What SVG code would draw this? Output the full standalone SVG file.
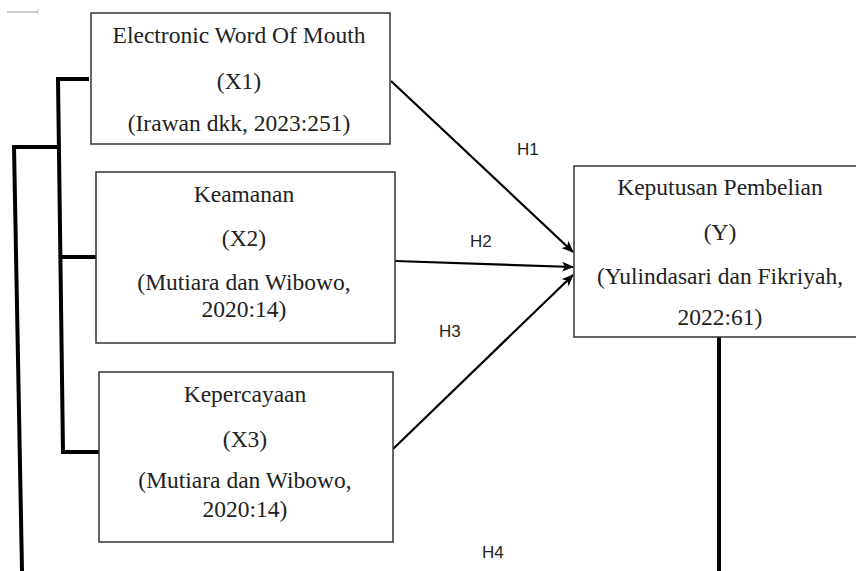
<svg xmlns="http://www.w3.org/2000/svg" width="856" height="571" viewBox="0 0 856 571">
<style>
.box{fill:#fff;stroke:#333;stroke-width:1.5}
.t{font-family:"Liberation Serif","Times New Roman",serif;font-size:23.5px;fill:#222;text-anchor:middle}
.h{font-family:"Liberation Sans",Arial,sans-serif;font-size:17px;fill:#222}
.thick{fill:none;stroke:#000;stroke-width:4;stroke-linejoin:miter}
.arr{fill:none;stroke:#000;stroke-width:2.2;marker-end:url(#ah)}
</style>
<defs>
<marker id="ah" markerWidth="12" markerHeight="10" refX="11" refY="5" orient="auto" markerUnits="userSpaceOnUse">
<path d="M0,0 L12,5 L0,10 L3,5 Z" fill="#000"/>
</marker>
</defs>
<rect width="856" height="571" fill="#fff"/>
<line x1="7" y1="12" x2="38" y2="12" stroke="#999" stroke-width="1"/>
<line x1="38" y1="9" x2="38" y2="14" stroke="#bbb" stroke-width="1"/>

<g id="connectors">
<path class="thick" d="M89,79 L58,79 L63,452 L99,452"/>
<path class="thick" d="M60,257 L96,257"/>
<path class="thick" d="M58,147 L14,147 L22,571"/>
<path class="thick" d="M719,337 L719,571"/>
<path class="arr" d="M391,81 L573,252"/>
<path class="arr" d="M395,261 L573,267"/>
<path class="arr" d="M393,449 L573,275"/>
<text class="h" x="517" y="155">H1</text>
<text class="h" x="470" y="247">H2</text>
<text class="h" x="439" y="337">H3</text>
<text class="h" x="482" y="558">H4</text>
</g>

<g id="x1">
<rect class="box" x="91" y="13" width="299" height="131"/>
<text class="t" x="239" y="43">Electronic Word Of Mouth</text>
<text class="t" x="239" y="89">(X1)</text>
<text class="t" x="239" y="131">(Irawan dkk, 2023:251)</text>
</g>

<g id="x2">
<rect class="box" x="96" y="172" width="299" height="171"/>
<text class="t" x="244" y="202">Keamanan</text>
<text class="t" x="244" y="246">(X2)</text>
<text class="t" x="244" y="290">(Mutiara dan Wibowo,</text>
<text class="t" x="244" y="317">2020:14)</text>
</g>

<g id="x3">
<rect class="box" x="99" y="372" width="294" height="170"/>
<text class="t" x="245" y="402">Kepercayaan</text>
<text class="t" x="245" y="447">(X3)</text>
<text class="t" x="245" y="488">(Mutiara dan Wibowo,</text>
<text class="t" x="245" y="517">2020:14)</text>
</g>

<g id="y">
<rect class="box" x="574" y="166" width="290" height="171"/>
<text class="t" x="720" y="195">Keputusan Pembelian</text>
<text class="t" x="720" y="240">(Y)</text>
<text class="t" x="720" y="284">(Yulindasari dan Fikriyah,</text>
<text class="t" x="720" y="325">2022:61)</text>
</g>
</svg>
